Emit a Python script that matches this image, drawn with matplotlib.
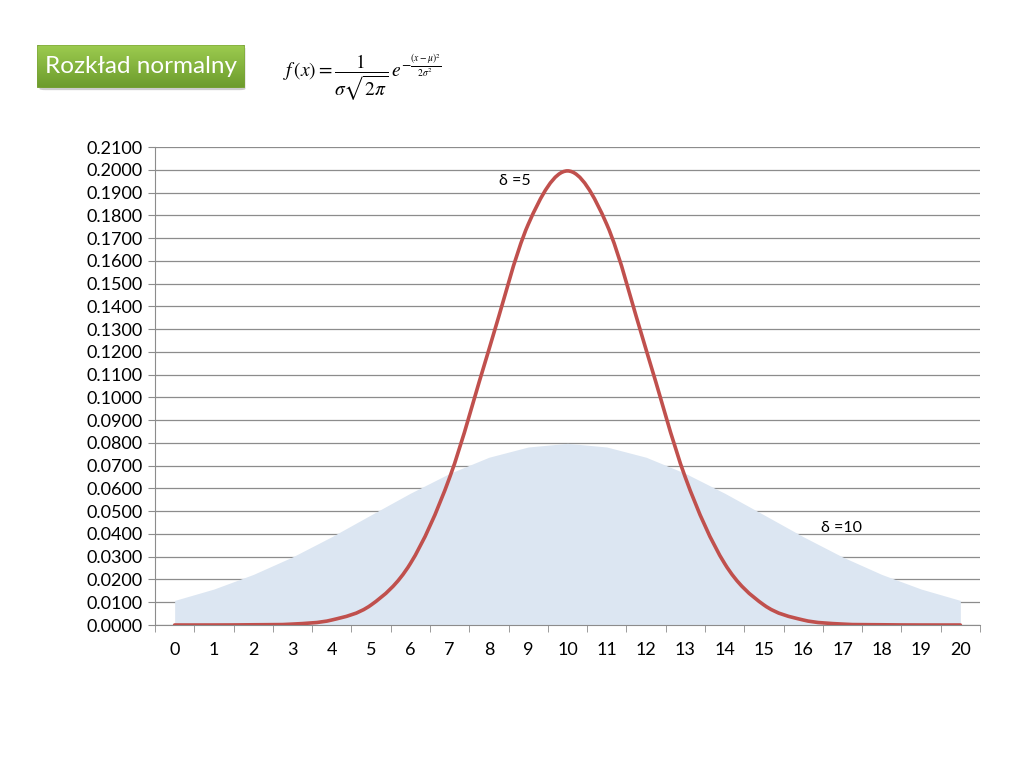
import matplotlib
matplotlib.use("Agg")
import matplotlib.pyplot as plt
import numpy as np
from matplotlib.path import Path
from matplotlib.patches import PathPatch, FancyBboxPatch
from matplotlib.ticker import FormatStrFormatter

# dane
x_vals = list(range(0, 21))
# czerwona linia ("δ =5")
red_vals = [0.0000, 0.0000, 0.0001, 0.0004, 0.0022, 0.0088, 0.0270, 0.0648,
            0.1210, 0.1760, 0.1995, 0.1760, 0.1210, 0.0648, 0.0270, 0.0088,
            0.0022, 0.0004, 0.0001, 0.0000, 0.0000]
# niebieskie pole ("δ =10")
blue_vals = [0.0108, 0.0158, 0.0222, 0.0299, 0.0388, 0.0484, 0.0579, 0.0666,
             0.0737, 0.0782, 0.0798, 0.0782, 0.0737, 0.0666, 0.0579, 0.0484,
             0.0388, 0.0299, 0.0222, 0.0158, 0.0108]
y_ticks = [round(0.01 * i, 2) for i in range(22)]

red_color = "#c0504d"
fill_color = "#dce6f2"
grid_color = "#8c8c8c"

plt.rcParams["font.family"] = ["Lato", "DejaVu Sans"]
plt.rcParams["mathtext.fontset"] = "stix"

fig = plt.figure(figsize=(10.24, 7.68), dpi=100)
ax = fig.add_axes([155 / 1024, 1 - 625 / 768, 825 / 1024, 478 / 768])


def smooth_path(xs, ys):
    # krzywa wygladzona jak w Excelu (Catmull-Rom -> Bezier)
    pts = np.column_stack([xs, ys]).astype(float)
    verts = [pts[0]]
    codes = [Path.MOVETO]
    n = len(pts)
    for i in range(n - 1):
        p0 = pts[max(i - 1, 0)]
        p1 = pts[i]
        p2 = pts[i + 1]
        p3 = pts[min(i + 2, n - 1)]
        c1 = p1 + (p2 - p0) / 6.0
        c2 = p2 - (p3 - p1) / 6.0
        verts += [c1, c2, p2]
        codes += [Path.CURVE4] * 3
    return Path(verts, codes)


ax.fill_between(x_vals, 0, blue_vals, color=fill_color, lw=0, zorder=2)
ax.add_patch(PathPatch(smooth_path(x_vals, red_vals), fill=False,
                       edgecolor=red_color, lw=2.6, zorder=3,
                       capstyle="round", joinstyle="round"))

ax.set_xlim(-0.5, 20.5)
ax.set_ylim(0, 0.21)
ax.set_yticks(y_ticks)
ax.yaxis.set_major_formatter(FormatStrFormatter("%.4f"))
ax.set_xticks(x_vals)
ax.set_xticklabels([str(v) for v in x_vals])
ax.set_xticks(np.arange(-0.5, 21, 1.0), minor=True)
ax.tick_params(axis="x", which="major", length=0, pad=12, labelsize=13)
ax.tick_params(axis="x", which="minor", length=5, color=grid_color, direction="out")
ax.tick_params(axis="y", length=5, color=grid_color, labelsize=13, pad=4)

ax.grid(axis="y", color=grid_color, lw=0.9, zorder=1)
ax.set_axisbelow(True)
for s in ["top", "right"]:
    ax.spines[s].set_visible(False)
ax.spines["left"].set_color(grid_color)
ax.spines["bottom"].set_color(grid_color)

ax.text(8.25, 0.1951, "δ =5", fontsize=11.5, va="center", ha="left", zorder=4)
ax.text(16.46, 0.0426, "δ =10", fontsize=11.5, va="center", ha="left", zorder=4)

# tytul w zielonej ramce
box_ax = fig.add_axes([37 / 1024, 1 - 88 / 768, 208 / 1024, 43 / 768])
box_ax.set_xlim(0, 1)
box_ax.set_ylim(0, 1)
box_ax.axis("off")
shadow = FancyBboxPatch((0.012, -0.05), 0.99, 1.0, boxstyle="round,pad=0,rounding_size=0.03",
                        transform=box_ax.transAxes, facecolor="#9a9a9a", edgecolor="none",
                        alpha=0.5, clip_on=False)
box_ax.add_patch(shadow)
grad = np.linspace(0, 1, 64).reshape(-1, 1)
img = box_ax.imshow(grad, extent=[0, 1, 0, 1], aspect="auto",
                    cmap=matplotlib.colors.LinearSegmentedColormap.from_list(
                        "g", ["#9ccb4f", "#6c9b2c"]), zorder=1, origin="upper")
box = FancyBboxPatch((0, 0), 1, 1, boxstyle="round,pad=0,rounding_size=0.03",
                     transform=box_ax.transAxes, facecolor="none", edgecolor="#7ba33a", lw=0.8,
                     zorder=2)
box_ax.add_patch(box)
img.set_clip_path(box)
box_ax.text(0.5, 0.5, "Rozkład normalny", color="white", fontsize=17.5,
            ha="center", va="center", zorder=3)

# wzor
fig.text(283 / 1024, 1 - 77 / 768,
         r"$f\,(x)=\dfrac{1}{\sigma\sqrt{2\pi}}\,e^{-\frac{(x-\mu)^2}{2\sigma^2}}$",
         fontsize=14, ha="left", va="center")

fig.savefig("out.png", dpi=100)
